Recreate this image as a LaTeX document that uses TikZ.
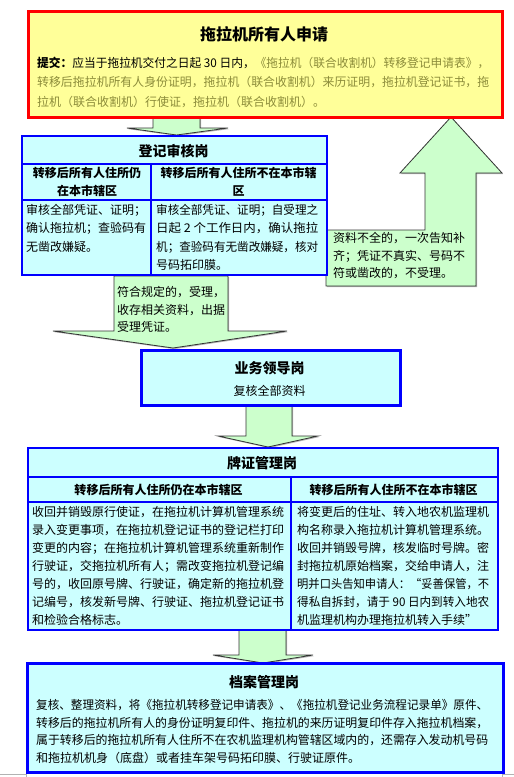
\documentclass[tikz,border=0pt]{standalone}
\usepackage{fontspec}
\usepackage{graphicx}
\setmainfont{Noto Sans CJK SC}
\definecolor{boxyellow}{HTML}{FFFF99}
\definecolor{boxcyan}{HTML}{CCFFFF}
\definecolor{arrowgreen}{HTML}{CCFFCC}
\definecolor{arrowline}{HTML}{333333}
\definecolor{shadowgray}{HTML}{B4B4B4}
\definecolor{olivetext}{HTML}{8C8C3A}
\newcommand\fitw[2]{\resizebox{#1}{\height}{#2}}
\newcommand\rows[6]{%
  \foreach \rowtext [count=\i from 0] in {#6}{%
    \node[#5, anchor=base west] (#1\i) at (#2, {#3+4.4+\i*#4}) {\rowtext};}}
\tikzset{
  txt/.style={inner sep=0pt, font=\fontsize{12bp}{14bp}\selectfont},
  hdr/.style={inner sep=0pt, font=\fontsize{12bp}{14bp}\selectfont\bfseries},
  ttl/.style={inner sep=0pt, font=\fontsize{14bp}{16bp}\selectfont\bfseries},
  bluebox/.style={draw=blue, fill=boxcyan, inner sep=0pt, anchor=north west},
  inner/.style={draw=blue, line width=1.3bp},
  blockarrow/.style={fill=arrowgreen, draw=arrowline, line width=0.8bp, line join=miter},
  arrowshadow/.style={fill=shadowgray, shift={(1.1,1.1)}},
}
\begin{document}
\begin{tikzpicture}[x=1bp, y=-1bp]
\useasboundingbox (0,0) rectangle (514,777);

% ---------- block arrows (drawn first) ----------
% red box -> registration box
\fill[arrowshadow] (153,117) -- (200,117) -- (200,128) -- (228,128) -- (176.5,135) -- (127,128) -- (153,128) -- cycle;
\draw[blockarrow] (153,117) -- (200,117) -- (200,128) -- (228,128) -- (176.5,135) -- (127,128) -- (153,128) -- cycle;
% reject callout with up arrow
\fill[arrowshadow] (326,286) -- (326,230) -- (425,230) -- (425,173) -- (400,173) -- (451,117) -- (502,173) -- (476,173) -- (476,286) -- cycle;
\draw[blockarrow] (326,286) -- (326,230) -- (425,230) -- (425,173) -- (400,173) -- (451,117) -- (502,173) -- (476,173) -- (476,286) -- cycle;
% accept callout with down arrow
\fill[arrowshadow] (114,276) -- (228,276) -- (228,331) -- (287,331) -- (173,348) -- (53,331) -- (114,331) -- cycle;
\draw[blockarrow] (114,276) -- (228,276) -- (228,331) -- (287,331) -- (173,348) -- (53,331) -- (114,331) -- cycle;
% leader -> licence
\fill[arrowshadow] (246,404) -- (292,404) -- (292,436) -- (318,436) -- (268,447) -- (218,436) -- (246,436) -- cycle;
\draw[blockarrow] (246,404) -- (292,404) -- (292,436) -- (318,436) -- (268,447) -- (218,436) -- (246,436) -- cycle;
% licence -> archive
\fill[arrowshadow] (239,629) -- (286,629) -- (286,655) -- (313,655) -- (263,663) -- (213,655) -- (239,655) -- cycle;
\draw[blockarrow] (239,629) -- (286,629) -- (286,655) -- (313,655) -- (263,663) -- (213,655) -- (239,655) -- cycle;

% ---------- top: applicant ----------
\node[draw=red, line width=3bp, fill=boxyellow, inner sep=0pt, anchor=north west,
      minimum width=474bp, minimum height=106bp] (apply) at (27,10) {};
\node[inner sep=0pt, font=\fontsize{16bp}{18bp}\selectfont\bfseries] (applyT) at (264,34) {拖拉机所有人申请};
\rows{ap}{37}{63}{19.5}{txt}{
  {\fitw{452bp}{{\bfseries 提交：}应当于拖拉机交付之日起 30 日内，\textcolor{olivetext}{《拖拉机（联合收割机）转移登记申请表》，}}},
  {\fitw{452bp}{\textcolor{olivetext}{转移后拖拉机所有人身份证明，拖拉机（联合收割机）来历证明，拖拉机登记证书，拖}}},
  {\textcolor{olivetext}{拉机（联合收割机）行使证，拖拉机（联合收割机）。}}}

% ---------- registration check ----------
\node[bluebox, line width=2bp, minimum width=305bp, minimum height=139bp] (reg) at (21,135) {};
\draw[inner] (21,164) -- (326,164);
\draw[inner] (21,200) -- (326,200);
\draw[inner] (151,164) -- (151,274);
\node[ttl] (regT) at (173.5,151) {登记审核岗};
\node[hdr] (regH1a) at (87,173) {转移后所有人住所仍};
\node[hdr] (regH1b) at (87,191) {在本市辖区};
\node[hdr] (regH2a) at (238.5,173) {转移后所有人住所不在本市辖};
\node[hdr] (regH2b) at (238.5,191) {区};
\rows{rl}{26}{210}{18.3}{txt}{审核全部凭证、证明；, 确认拖拉机；查验码有, 无凿改嫌疑。}
\rows{rr}{156}{210}{18.3}{txt}{
  {\fitw{162bp}{审核全部凭证、证明；自受理之}},
  {\fitw{162bp}{日起 2 个工作日内，确认拖拉}},
  {\fitw{162bp}{机；查验码有无凿改嫌疑，核对}},
  号码拓印膜。}

% callout texts
\rows{rj}{333}{238.5}{17.5}{txt}{资料不全的，一次告知补, 齐；凭证不真实、号码不, 符或凿改的，不受理。}
\rows{ac}{117}{292.5}{17.5}{txt}{符合规定的，受理，, 收存相关资料，出据, 受理凭证。}

% ---------- leader ----------
\node[bluebox, line width=3bp, minimum width=259bp, minimum height=55bp] (lead) at (140,349) {};
\node[ttl] (leadT) at (269.5,368) {业务领导岗};
\node[txt] (leadS) at (269.5,391) {复核全部资料};

% ---------- licence management ----------
\node[bluebox, line width=2bp, minimum width=470bp, minimum height=182bp] (lic) at (27,447) {};
\draw[inner] (27,477) -- (497,477);
\draw[inner] (27,502) -- (497,502);
\draw[inner] (291,477) -- (291,629);
\node[ttl] (licT) at (262,463) {牌证管理岗};
\node[hdr] (licH1) at (158.5,489.5) {转移后所有人住所仍在本市辖区};
\node[hdr] (licH2) at (393.5,489.5) {转移后所有人住所不在本市辖区};
\rows{ll}{32}{512}{18}{txt}{
  {\fitw{252bp}{收回并销毁原行使证，在拖拉机计算机管理系统}},
  {\fitw{252bp}{录入变更事项，在拖拉机登记证书的登记栏打印}},
  {\fitw{252bp}{变更的内容；在拖拉机计算机管理系统重新制作}},
  {\fitw{252bp}{行驶证，交拖拉机所有人；需改变拖拉机登记编}},
  {\fitw{252bp}{号的，收回原号牌、行驶证，确定新的拖拉机登}},
  {\fitw{252bp}{记编号，核发新号牌、行驶证、拖拉机登记证书}},
  和检验合格标志。}
\rows{lr}{297}{512}{18}{txt}{
  {\fitw{192bp}{将变更后的住址、转入地农机监理机}},
  {\fitw{192bp}{构名称录入拖拉机计算机管理系统。}},
  {\fitw{192bp}{收回并销毁号牌，核发临时号牌。密}},
  {\fitw{192bp}{封拖拉机原始档案，交给申请人，注}},
  {\fitw{192bp}{明并口头告知申请人：“妥善保管，不}},
  {\fitw{192bp}{得私自拆封，请于 90 日内到转入地农}},
  机监理机构办理拖拉机转入手续”}

% ---------- archive ----------
\node[bluebox, line width=3bp, minimum width=476bp, minimum height=109bp] (arch) at (26,662) {};
\node[ttl] (archT) at (264,682) {档案管理岗};
\rows{ar}{36}{705.5}{17.5}{txt}{
  {\fitw{452bp}{复核、整理资料，将《拖拉机转移登记申请表》、《拖拉机登记业务流程记录单》原件、}},
  {\fitw{452bp}{转移后的拖拉机所有人的身份证明复印件、拖拉机的来历证明复印件存入拖拉机档案，}},
  {\fitw{452bp}{属于转移后的拖拉机所有人住所不在农机监理机构管辖区域内的，还需存入发动机号码}},
  和拖拉机机身（底盘）或者挂车架号码拓印膜、行驶证原件。}

% page corner marks
\draw[gray!60, line width=0.8bp] (0,774) -- (26,774) -- (26,777);
\draw[gray!60, line width=0.8bp] (514,774) -- (502,774) -- (502,777);
\end{tikzpicture}
\end{document}
